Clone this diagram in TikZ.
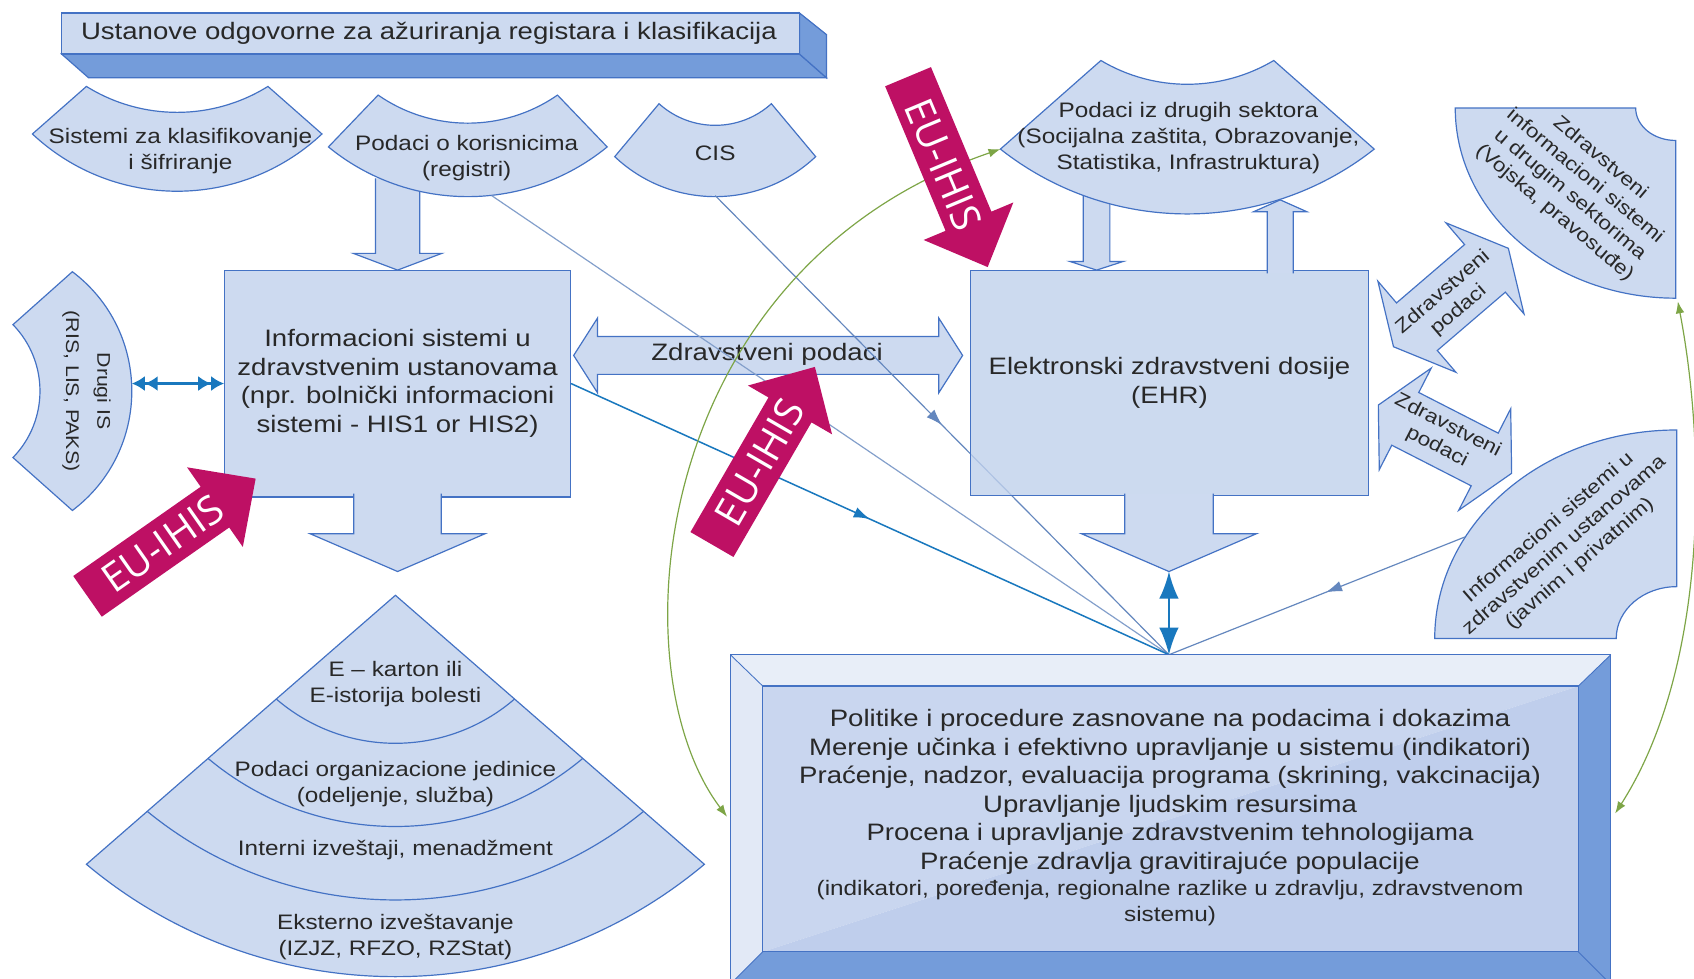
\documentclass[tikz,border=0pt]{standalone}
\usepackage{fontspec}
\setmainfont{Liberation Sans}[FakeStretch=1.16]
\newfontfamily\eufont{Open Sans}
\usetikzlibrary{arrows.meta,decorations.markings}

\definecolor{shpfill}{RGB}{205,218,240}
\definecolor{shpline}{RGB}{68,114,196}
\definecolor{darkface}{RGB}{116,156,218}
\definecolor{lightface}{RGB}{232,238,248}
\definecolor{lightface2}{RGB}{226,233,246}
\definecolor{innerA}{RGB}{201,214,239}
\definecolor{innerB}{RGB}{191,206,236}
\definecolor{ehrfill}{RGB}{192,209,236}
\definecolor{euPink}{RGB}{190,16,100}
\definecolor{lineblue}{RGB}{100,135,190}
\definecolor{brightblue}{RGB}{25,120,190}
\definecolor{arcgreen}{RGB}{125,165,70}
\definecolor{txtc}{RGB}{40,40,40}

% control points of a circular arc over a chord (x1,y)--(x2,y) with sagitta s
\newcommand\arcctl[5]{%
  \pgfmathsetmacro\acw{((#2)-(#1))/2}%
  \pgfmathsetmacro\aca{2*atan((#4)/\acw)}%
  \pgfmathsetmacro\acL{4*(#4)/(3*sin(\aca))}%
  \pgfmathsetmacro\acx{\acL*cos(\aca)}%
  \pgfmathsetmacro\acy{\acL*sin(\aca)}%
  \coordinate (#5a) at ({(#1)+\acx},{(#3)+\acy});%
  \coordinate (#5b) at ({(#2)-\acx},{(#3)+\acy});%
}
% fan segment: name, cx, top, inner half width, dip, outer half width, side y, bottom y
\newcommand\bowshape[8]{%
  \pgfmathsetmacro\bwL{(#2)-(#4)}%
  \pgfmathsetmacro\bwR{(#2)+(#4)}%
  \pgfmathsetmacro\bwLL{(#2)-(#6)}%
  \pgfmathsetmacro\bwRR{(#2)+(#6)}%
  \arcctl{\bwL}{\bwR}{#3}{#5}{#1t}%
  \arcctl{\bwRR}{\bwLL}{#7}{(#8)-(#7)}{#1o}%
  \draw[shp] (\bwL,#3) .. controls (#1ta) and (#1tb) .. (\bwR,#3) -- (\bwRR,#7)
     .. controls (#1oa) and (#1ob) .. (\bwLL,#7) -- cycle;
}
% double block arrow: style, cx, cy, angle, half length, head hw, shaft hw, head length
\newcommand\dblarrow[8]{%
  \begin{scope}[shift={(#2,#3)},rotate=#4]
    \draw[#1] (-#5,0) -- ({-#5+#8},#6) -- ({-#5+#8},#7) -- ({#5-#8},#7) -- ({#5-#8},#6)
      -- (#5,0) -- ({#5-#8},-#6) -- ({#5-#8},-#7) -- ({-#5+#8},-#7) -- ({-#5+#8},-#6) -- cycle;
  \end{scope}}
% single block arrow with open tail: style, tail x, tail y, angle, length, head hw, shaft hw, head length
\newcommand\sglarrow[8]{%
  \begin{scope}[shift={(#2,#3)},rotate=#4]
    \path[#1,draw=none] (0,#7) -- ({#5-#8},#7) -- ({#5-#8},#6) -- (#5,0) -- ({#5-#8},-#6)
      -- ({#5-#8},-#7) -- (0,-#7) -- cycle;
    \path[#1,fill=none] (0,#7) -- ({#5-#8},#7) -- ({#5-#8},#6) -- (#5,0) -- ({#5-#8},-#6)
      -- ({#5-#8},-#7) -- (0,-#7);
  \end{scope}}

\begin{document}
\begin{tikzpicture}[x=1pt,y=-1pt,
  shp/.style={fill=shpfill,draw=shpline,line width=1.1pt},
  eu/.style={fill=euPink},
  txt/.style={text=txtc,align=center,inner sep=0pt},
  fbig/.style={font=\fontsize{22}{26.4}\selectfont},
  fsmall/.style={font=\fontsize{19.4}{24}\selectfont},
  ftiny/.style={font=\fontsize{18}{22}\selectfont},
  eutxt/.style={text=white,inner sep=0pt,font=\eufont\fontsize{37}{40}\selectfont},
  boxst/.style={shp,inner sep=0pt,text=txtc,align=center,fbig},
  conn/.style={color=lineblue,line width=1.1pt},
  conn2/.style={color=brightblue,line width=1.4pt},
  midarrow/.style={postaction={decorate},decoration={markings,
     mark=at position #1 with {\arrow{Latex[length=15pt,width=10pt]}}}},
  greenarc/.style={draw=arcgreen,line width=1.1pt,
     {Latex[length=11pt,width=8pt]}-{Latex[length=11pt,width=8pt]}}]
\useasboundingbox (0,0) rectangle (1568,906);
\clip (0,0) rectangle (1568,906);
\fill[white] (0,0) rectangle (1568,906);

% ---- title bar (extruded) ----
\draw[shp,fill=darkface] (57,50) -- (740,50) -- (765,72) -- (82,72) -- cycle;
\draw[shp,fill=darkface] (740,12) -- (765,32) -- (765,72) -- (740,50) -- cycle;
\draw[shp] (57,12) rectangle (740,50);
\node[txt,fbig] (banner) at (397,31) {Ustanove odgovorne za ažuriranja registara i klasifikacija};

% ---- arrow from registers into hospital IS ----
\sglarrow{shp}{368}{165}{-90}{85}{41}{20.5}{15.5}

% ---- top fan segments ----
\bowshape{sa}{164}{80}{84}{24}{134}{124}{177}
\bowshape{sb}{433}{88}{83}{26}{129}{136}{182}
\bowshape{sc}{662}{96}{52}{20}{93}{145}{182}
\node[txt,fsmall] (klas) at (167,140) {Sistemi za klasifikovanje\\i šifriranje};
\node[txt,fsmall] (kor) at (432,146) {Podaci o korisnicima\\(registri)};
\node[txt,fsmall] (cis) at (662,142) {CIS};

% ---- other IS (left) ----
\begin{scope}[shift={(12,362)},rotate=90]
  \bowshape{dg}{0}{0}{61.5}{25}{110.5}{55}{110}
\end{scope}
\node[txt,font=\fontsize{17}{29}\selectfont,rotate=-90] (drugi) at (80,362) {Drugi IS\\(RIS, LIS, PAKS)};

% ---- pyramid of reports ----
\arcctl{652}{80}{800}{104}{pb}
\draw[shp] (366,551) -- (652,800) .. controls (pba) and (pbb) .. (80,800) -- cycle;
\arcctl{255.7}{476.3}{647}{41}{p1}
\draw[shpline,line width=1.1pt] (255.7,647) .. controls (p1a) and (p1b) .. (476.3,647);
\arcctl{192.6}{539.4}{702}{63}{p2}
\draw[shpline,line width=1.1pt] (192.6,702) .. controls (p2a) and (p2b) .. (539.4,702);
\arcctl{136.3}{595.7}{751}{82}{p3}
\draw[shpline,line width=1.1pt] (136.3,751) .. controls (p3a) and (p3b) .. (595.7,751);
\node[txt,fsmall] (ekarton) at (366,633) {E – karton ili\\E-istorija bolesti};
\node[txt,fsmall] (orgj) at (366,726) {Podaci organizacione jedinice\\(odeljenje, služba)};
\node[txt,fsmall] (interni) at (366,787) {Interni izveštaji, menadžment};
\node[txt,fsmall] (eksterno) at (366,867) {Eksterno izveštavanje\\(IZJZ, RFZO, RZStat)};

% ---- hospital information systems ----
\node[boxst,minimum width=320pt,minimum height=210pt] (is) at (368,355)
  {Informacioni sistemi u\\zdravstvenim ustanovama\\(npr. bolnički informacioni\\sistemi - HIS1 or HIS2)};
\sglarrow{shp}{368}{457}{-90}{72}{81}{40.5}{35}

% ---- health data exchange ----
\dblarrow{shp}{711}{329}{0}{180}{34.5}{17.5}{22}
\node[txt,fbig] (zp) at (710,328) {Zdravstveni podaci};

% ---- right-hand fan segments ----
\draw[shp] (1347,100) -- (1514,100) arc[start angle=180,end angle=90,x radius=37,y radius=30]
  -- (1551,276) arc[start angle=90,end angle=180,x radius=204,y radius=176] -- cycle;
\node[txt,ftiny,rotate=-40] (sektori) at (1460,172)
  {Zdravstveni\\informacioni sistemi\\u drugim sektorima\\(Vojska, pravosuđe)};
\draw[shp] (1328,591) arc[start angle=180,end angle=270,x radius=224,y radius=193]
  -- (1552,543) arc[start angle=270,end angle=180,x radius=56,y radius=48] -- cycle;
\node[txt,ftiny,rotate=41] (ustanove) at (1448,505)
  {Informacioni sistemi u\\zdravstvenim ustanovama\\(javnim i privatnim)};

% ---- connector anchors ----
\coordinate (C) at (1082,606);
\coordinate (s2b) at (455,181);
\coordinate (cisb) at (662,181);
\coordinate (s6p) at (1356,497);
\coordinate (ehrTip) at (1082,529);
\coordinate (drugiR) at (122,355);
\coordinate (s4L) at (926,138);
\coordinate (boxL) at (673,756);
\coordinate (s5B) at (1553,279);
\coordinate (boxR) at (1495,753);

\draw[conn,color=lineblue!80] (s2b) -- (C);
\draw[conn,midarrow=0.5] (cisb) -- (C);
\draw[conn2,midarrow=0.5] (is.east) -- (C);
\draw[conn,midarrow=0.47] (s6p) -- (C);

% ---- electronic health record ----
\node[boxst,fill=ehrfill,fill opacity=0.8,text opacity=1,minimum width=369pt,minimum height=209pt]
  (ehr) at (1082.5,354.5) {Elektronski zdravstveni dosije\\(EHR)};
\sglarrow{shp}{1082}{457}{-90}{72}{81}{41}{35}
\sglarrow{shp}{1015}{176}{-90}{74}{24.7}{12.3}{8}
\sglarrow{shp}{1185}{253}{90}{68}{24.7}{12}{11}
\bowshape{sd}{1099}{56}{80}{22}{173}{138}{198}
\node[txt,fsmall] (sektori2) at (1100,128)
  {Podaci iz drugih sektora\\(Socijalna zaštita, Obrazovanje,\\Statistika, Infrastruktura)};

\dblarrow{shp}{1343}{275.4}{40.6}{70}{55.5}{29}{28.5}
\node[txt,ftiny,rotate=40.6] (zp1) at (1343,279) {Zdravstveni\\podaci};
\dblarrow{shp}{1337.5}{406.5}{-27.1}{69.3}{52.8}{27.4}{28}
\node[txt,ftiny,rotate=-27.1] (zp2) at (1335,404) {Zdravstveni\\podaci};

% ---- policy frame (bevelled) ----
\fill[lightface] (676,606) -- (1491,606) -- (1461,635) -- (706,635) -- cycle;
\fill[lightface2] (676,606) -- (706,635) -- (706,881) -- (676,911) -- cycle;
\fill[darkface] (1491,606) -- (1491,911) -- (1461,881) -- (1461,635) -- cycle;
\fill[darkface] (676,911) -- (706,881) -- (1461,881) -- (1491,911) -- cycle;
\fill[innerA] (706,635) -- (1461,635) -- (706,881) -- cycle;
\fill[innerB] (1461,635) -- (1461,881) -- (706,881) -- cycle;
\draw[shpline,line width=1.1pt] (676,606) rectangle (1491,911);
\draw[shpline,line width=1.1pt] (706,635) rectangle (1461,881);
\draw[shpline,line width=0.8pt] (676,606) -- (706,635) (1491,606) -- (1461,635)
  (676,911) -- (706,881) (1491,911) -- (1461,881);
\node[txt,fbig] (politike) at (1083,733)
  {Politike i procedure zasnovane na podacima i dokazima\\
   Merenje učinka i efektivno upravljanje u sistemu (indikatori)\\
   Praćenje, nadzor, evaluacija programa (skrining, vakcinacija)\\
   Upravljanje ljudskim resursima\\
   Procena i upravljanje zdravstvenim tehnologijama\\
   Praćenje zdravlja gravitirajuće populacije};
\node[txt,fsmall] (indik) at (1083,836)
  {(indikatori, poređenja, regionalne razlike u zdravlju, zdravstvenom\\sistemu)};

% ---- links to the policy frame ----
\draw[color=brightblue,line width=2pt,
  {Latex[length=25pt,width=18pt]}-{Latex[length=25pt,width=18pt]}] (ehrTip) -- (C);
\draw[color=brightblue,line width=3pt,
  {Latex[length=12pt,width=14pt]Latex[length=12pt,width=14pt]}-{Latex[length=12pt,width=14pt]Latex[length=12pt,width=14pt]}]
  (drugiR) -- (is.west);
\draw[greenarc] (s4L) .. controls (600,250) and (570,620) .. (boxL);
\draw[greenarc] (s5B) .. controls (1580,420) and (1580,620) .. (boxR);

% ---- EU-IHIS arrows ----
\sglarrow{eu}{81}{552}{35}{190}{45}{23}{46}
\node[eutxt,rotate=35] (eu1) at (150.6,503.2) {EU-IHIS};
\sglarrow{eu}{659}{504}{59.9}{190}{45}{23}{46}
\node[eutxt,rotate=59.9] (eu2) at (703,428) {EU-IHIS};
\sglarrow{eu}{840.5}{71}{-67.3}{191}{45}{23}{46}
\node[eutxt,rotate=-67.3] (eu3) at (873.5,152) {EU-IHIS};
\end{tikzpicture}
\end{document}
